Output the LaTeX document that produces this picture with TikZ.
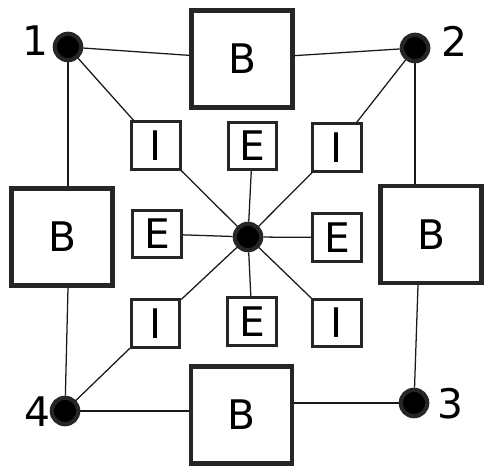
\documentclass[tikz,border=0pt]{standalone}
\usepackage{fontspec}
\setmainfont{DejaVu Sans}
\usepackage{tikz}
\definecolor{bdGrey}{HTML}{262626}

\begin{document}
\begin{tikzpicture}[font=\fontsize{29}{35}\selectfont,
    bigbox/.style={draw=bdGrey,line width=3.2pt,fill=white,minimum width=2.52cm,minimum height=2.42cm,inner sep=0pt},
    smallbox/.style={draw=bdGrey,line width=2pt,fill=white,minimum width=1.22cm,minimum height=1.19cm,inner sep=0pt},
    dot/.style={circle,draw=bdGrey,fill=black,line width=3pt,minimum size=0.66cm,inner sep=0pt},
    link/.style={draw=black!90,line width=0.9pt}]

\useasboundingbox (0,0) rectangle (12.1,11.7);

% Corner points with their numbers
\node[dot] at (1.70,10.525) (n1) {};
\node[dot] at (10.375,10.5) (n2) {};
\node[dot] at (10.35,1.625) (n3) {};
\node[dot] at (1.625,1.425) (n4) {};
\node at (0.875,10.675) (l1) {1};
\node at (11.35,10.675) (l2) {2};
\node at (11.25,1.6) (l3) {3};
\node at (0.925,1.4) (l4) {4};

% Centre point
\node[dot] at (6.2,5.775) (mid) {};

% Big boxes on the four sides
\node[bigbox] at (6.05,10.225) (btop) {B};
\node[bigbox] at (1.55,5.775) (bleft) {B};
\node[bigbox] at (10.775,5.8375) (bright) {B};
\node[bigbox] at (6.0375,1.325) (bbot) {B};

% Small boxes round the centre
\node[smallbox] at (3.9,8.0625) (itl) {I};
\node[smallbox] at (6.3125,8.05) (etop) {E};
\node[smallbox] at (8.425,8.0125) (itr) {I};
\node[smallbox] at (3.925,5.85) (eleft) {E};
\node[smallbox] at (8.425,5.7625) (eright) {E};
\node[smallbox] at (3.8875,3.6125) (ibl) {I};
\node[smallbox] at (6.3,3.6625) (ebot) {E};
\node[smallbox] at (8.425,3.625) (ibr) {I};

% Outer ring
\draw[link] (n1) -- (btop);
\draw[link] (btop) -- (n2);
\draw[link] (n2) -- (n2 |- bright.north);
\draw[link] (bright.south -| n3) ++(0.1,0) -- (n3);
\draw[link] (n3) -- (n3 -| bbot.east);
\draw[link] (bbot.west |- n4) -- (n4);
\draw[link] (n4) -- (bleft.south -| n1);
\draw[link] (bleft.north -| n1) -- (n1);

% Diagonals through the I boxes
\draw[link] (n1) -- (itl);
\draw[link] (itl) -- (mid);
\draw[link] (n2) -- (itr);
\draw[link] (itr) -- (mid);
\draw[link] (n4) -- (ibl);
\draw[link] (ibl) -- (mid);
\draw[link] (mid) -- (ibr);

% Spokes to the E boxes
\draw[link] (mid) -- (etop);
\draw[link] (mid) -- (eleft);
\draw[link] (mid) -- (eright);
\draw[link] (mid) -- (ebot);

\end{tikzpicture}
\end{document}
